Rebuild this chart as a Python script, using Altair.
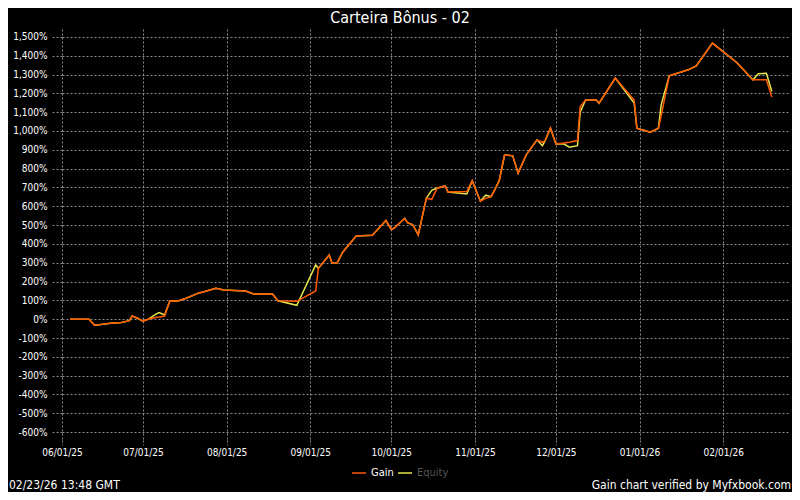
import altair as alt
import pandas as pd

dates = [
    "2025-06-04", "2025-06-11", "2025-06-13", "2025-06-14", "2025-06-19", "2025-06-23",
    "2025-06-26", "2025-06-27", "2025-06-29", "2025-07-01", "2025-07-03", "2025-07-06",
    "2025-07-07", "2025-07-09", "2025-07-11", "2025-07-14", "2025-07-17", "2025-07-22",
    "2025-07-23", "2025-07-28", "2025-07-31", "2025-08-08", "2025-08-11", "2025-08-18",
    "2025-08-20", "2025-08-27", "2025-09-03", "2025-09-04", "2025-09-08", "2025-09-09",
    "2025-09-11", "2025-09-13", "2025-09-18", "2025-09-24", "2025-09-29", "2025-10-01",
    "2025-10-02", "2025-10-06", "2025-10-07", "2025-10-09", "2025-10-11", "2025-10-14",
    "2025-10-16", "2025-10-18", "2025-10-21", "2025-10-22", "2025-10-29", "2025-10-31",
    "2025-11-03", "2025-11-05", "2025-11-07", "2025-11-08", "2025-11-10", "2025-11-12",
    "2025-11-15", "2025-11-17", "2025-11-20", "2025-11-24", "2025-11-26", "2025-11-27",
    "2025-11-29", "2025-12-01", "2025-12-04", "2025-12-06", "2025-12-09", "2025-12-10",
    "2025-12-12", "2025-12-16", "2025-12-17", "2025-12-23", "2025-12-30", "2025-12-31",
    "2026-01-05", "2026-01-08", "2026-01-09", "2026-01-12", "2026-01-19", "2026-01-22",
    "2026-01-28", "2026-02-06", "2026-02-12", "2026-02-14", "2026-02-17", "2026-02-19",
]
gain = [
    0, 0, -31, -31, -22, -17,
    -8, 17, 5, -10, 0, 10,
    12, 17, 98, 97, 111, 141,
    143, 164, 155, 150, 134, 134,
    98, 95, 150, 270, 341, 300,
    300, 356, 442, 446, 524, 478,
    483, 536, 513, 501, 448, 643,
    637, 696, 708, 676, 678, 736,
    627, 642, 651, 678, 736, 873,
    868, 776, 873, 953, 940, 949,
    1015, 931, 936, 940, 949, 1130,
    1165, 1165, 1148, 1281, 1165, 1015,
    994, 1015, 1080, 1293, 1325, 1346,
    1467, 1364, 1272, 1272, 1272, 1180,
]
equity = [
    0, 0, -31, -31, -22, -17,
    -8, 17, 5, -10, 0, 28,
    35, 22, 98, 97, 111, 141,
    143, 164, 155, 150, 134, 134,
    98, 74, 288, 270, 341, 300,
    300, 356, 442, 446, 524, 478,
    483, 536, 513, 501, 448, 643,
    685, 697, 708, 676, 665, 736,
    627, 659, 651, 678, 736, 873,
    868, 776, 873, 953, 922, 949,
    1015, 931, 931, 914, 922, 1100,
    1165, 1165, 1148, 1281, 1148, 1015,
    994, 1015, 1139, 1293, 1325, 1346,
    1467, 1364, 1272, 1304, 1307, 1210,
]
series_names = ["Gain", "Equity"]
series_colors = ["#ff5a00", "#e6e64d"]
y_ticks = list(range(-600, 1501, 100))
month_ticks = [(2025, 6), (2025, 7), (2025, 8), (2025, 9), (2025, 10), (2025, 11),
               (2025, 12), (2026, 1), (2026, 2)]
title_text = "Carteira Bônus - 02"
stamp_text = "02/23/26 13:48 GMT"
credit_text = "Gain chart verified by Myfxbook.com"

FONT = "DejaVu Sans Condensed, DejaVu Sans"
GRID = "#8a8a8a"

df = pd.DataFrame({"date": [d + "T00:00:00" for d in dates], "Gain": gain, "Equity": equity})

W, H = 726, 411

x_enc = alt.X(
    "date:T",
    scale=alt.Scale(domain=[alt.DateTime(year=2025, month=6, date=1),
                            alt.DateTime(year=2026, month=2, date=25)], nice=False),
    axis=alt.Axis(
        values=[alt.DateTime(year=y, month=m, date=1) for y, m in month_ticks],
        format="%m/%d/%y", title=None, grid=True, gridColor=GRID, gridDash=[2, 2],
        gridWidth=1, domain=False, ticks=True, tickSize=5, tickColor=GRID, tickDash=[2, 2],
        labelColor="#ffffff", labelFont=FONT, labelFontSize=10, labelPadding=2,
        labelOverlap=False, labelFlush=False,
    ),
)

def y_enc(field):
    return alt.Y(
        f"{field}:Q",
        scale=alt.Scale(domain=[-642, 1542], nice=False, zero=False),
        axis=alt.Axis(
            values=y_ticks, title=None, grid=True, gridColor=GRID, gridDash=[2, 2],
            gridWidth=1, domain=False, ticks=True, tickSize=10, tickColor=GRID,
            tickDash=[2, 2], labelColor="#ffffff", labelFont=FONT, labelFontSize=10,
            labelPadding=5, labelOverlap=False, labelFlush=False,
            labelExpr="(datum.value < 0 ? '-' : '') + format(abs(datum.value), ',') + '%'",
        ),
    )

base = alt.Chart(df)
equity_line = base.mark_line(color=series_colors[1], strokeWidth=1.5).encode(
    x=x_enc, y=y_enc("Equity"))
gain_line = base.mark_line(color=series_colors[0], strokeWidth=1.5).encode(
    x=x_enc, y=y_enc("Gain"))

def label(text, x, y, size, color, align="left"):
    return alt.Chart(pd.DataFrame({"t": [text]})).mark_text(
        font=FONT, fontSize=size, color=color, align=align, baseline="middle"
    ).encode(x=alt.value(x), y=alt.value(y), text="t:N")

def swatch(x1, x2, y, color):
    return alt.Chart(pd.DataFrame({"t": [0]})).mark_rule(color=color, strokeWidth=1.5).encode(
        x=alt.value(x1), x2=alt.value(x2), y=alt.value(y))

title = label(title_text, 338, -11, 16, "#ffffff", "center")
leg = (swatch(290, 304, 444, series_colors[0]) + label(series_names[0], 309, 444, 11, "#ffffff")
       + swatch(336, 350, 444, series_colors[1]) + label(series_names[1], 355, 444, 11, "#555555"))
stamp = label(stamp_text, -53, 456, 12, "#ffffff")
credit = label(credit_text, 729, 456, 12, "#ffffff", "right")

chart = alt.layer(equity_line, gain_line, title, leg, stamp, credit).properties(
    width=W, height=H,
    autosize=alt.AutoSizeParams(type="none"),
    padding={"left": 54, "top": 21, "right": 4, "bottom": 52},
    background="#000000",
).configure_view(stroke=None)

chart.save("out.html", embed_options={"renderer": "svg", "actions": False})
